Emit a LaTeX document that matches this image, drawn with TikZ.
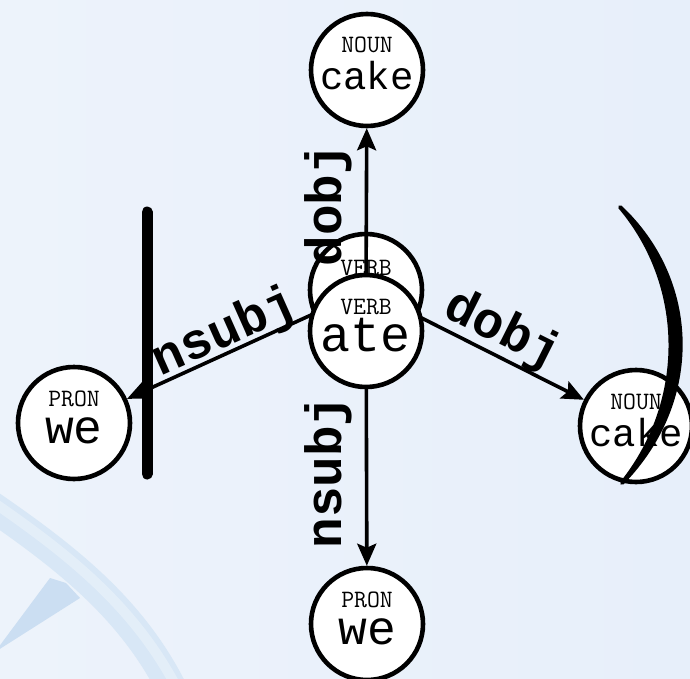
\documentclass[tikz,border=0pt]{standalone}
\usepackage{fontspec}
\newfontfamily\wordfont{Liberation Mono}
\usetikzlibrary{arrows.meta}

\definecolor{bgleft}{RGB}{237,243,251}
\definecolor{bgright}{RGB}{231,239,250}
\definecolor{bladeblue}{RGB}{216,231,246}
\definecolor{bladeedge}{RGB}{203,222,242}

\tikzset{
  tok/.style={circle, draw=black, fill=white, line width=4.6pt,
    minimum size=112pt, inner sep=0pt},
  tagtext/.style={font=\ttfamily\fontsize{25}{25}\selectfont, inner sep=0pt},
  wordtext/.style={inner sep=0pt},
  edge/.style={line width=3.6pt,
    -{Stealth[length=22pt, width=19pt, inset=4pt]}},
  deplabel/.style={font=\wordfont\bfseries\fontsize{51}{51}\selectfont,
    inner sep=0pt},
}

% token: name, centre, tag, word, word size
\newcommand\tokennode[5]{%
  \node[tok] (#1) at (#2) {};
  \node[tagtext, anchor=base] (#1-tag) at ([yshift=17pt]#1.center) {#3};
  \node[wordtext, anchor=base] (#1-word) at ([yshift=-20pt]#1.center)
    {\wordfont\fontsize{#5}{#5}\selectfont #4};
}

\begin{document}
\begin{tikzpicture}[x=1pt, y=-1pt]
  \useasboundingbox (0,0) rectangle (690,679);
  \shade[left color=bgleft, right color=bgright] (0,0) rectangle (690,679);

  % faint windmill in the background
  \fill[bladeedge] (-5,652) -- (50,578) -- (66,583) -- (80,598) -- cycle;
  \draw[line width=30pt, bladeblue] (-10,505) .. controls (70,560) and (135,612) .. (175,695);
  \draw[line width=10pt, white, opacity=0.3] (-10,500) .. controls (70,555) and (135,607) .. (178,690);

  % left bar
  \draw[line width=11pt, line cap=round] (147,212) -- (147,474);

  % tokens
  \node[tok] (ghost) at (366,290) {};
  \node[tagtext, anchor=base] (ghost-tag) at ([yshift=15pt]ghost.center) {VERB};

  \tokennode{cakeT}{367,70}{NOUN}{cake}{39}
  \tokennode{weL}{74,423}{PRON}{we}{48}
  \tokennode{cakeR}{636,426}{NOUN}{cake}{39}
  \tokennode{weB}{367,624}{PRON}{we}{48}

  % dependency arcs
  \draw[edge] (ghost.center) -- (cakeT);
  \draw[edge] (ghost.center) -- (weB);
  \draw[edge] (ghost.center) -- (weL);
  \draw[edge] (ghost.center) -- (cakeR);

  \node[deplabel, rotate=90] (lbl-dobj-up) at (328,205) {dobj};
  \node[deplabel, rotate=90] (lbl-nsubj-down) at (328,472) {nsubj};
  \node[deplabel, rotate=24] (lbl-nsubj-left) at (225,333) {nsubj};
  \node[deplabel, rotate=-26.6] (lbl-dobj-right) at (502,331) {dobj};

  % head token
  \tokennode{ate}{366,331}{VERB}{ate}{50}

  % right bracket stroke
  \filldraw[line width=4pt, line join=round]
    (620,207) .. controls (698,280) and (703,400) .. (622,483)
    .. controls (688,400) and (686,285) .. (620,207) -- cycle;
\end{tikzpicture}
\end{document}
